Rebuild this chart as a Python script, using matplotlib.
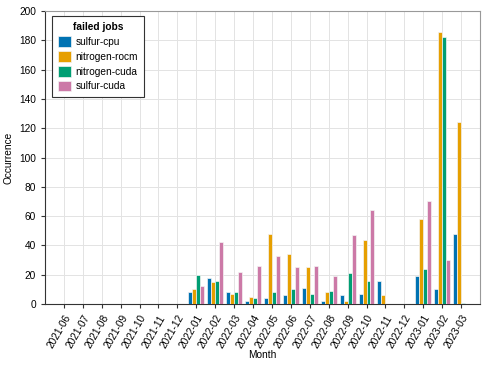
import numpy as np
import matplotlib
matplotlib.use("Agg")
import matplotlib.pyplot as plt

plt.rcParams["font.family"] = ["Liberation Sans", "DejaVu Sans"]
plt.rcParams["font.size"] = 7.3

months = ["2021-06", "2021-07", "2021-08", "2021-09", "2021-10", "2021-11",
          "2021-12", "2022-01", "2022-02", "2022-03", "2022-04", "2022-05",
          "2022-06", "2022-07", "2022-08", "2022-09", "2022-10", "2022-11",
          "2022-12", "2023-01", "2023-02", "2023-03"]

sulfur_cpu = [0, 0, 0, 0, 0, 0, 0, 8, 18, 8, 2, 4, 6, 11, 2, 6, 7, 16, 0, 19, 10, 48]
nitrogen_rocm = [0, 0, 0, 0, 0, 0, 0, 10, 15, 7, 5, 48, 34, 25, 8, 2, 44, 6, 0, 58, 186, 124]
nitrogen_cuda = [0, 0, 0, 0, 0, 0, 0, 20, 16, 8, 4, 8, 10, 7, 9, 21, 16, 0, 0, 24, 182, 1]
sulfur_cuda = [0, 0, 0, 0, 0, 0, 0, 12, 42, 22, 26, 33, 25, 26, 19, 47, 64, 0, 0, 70, 30, 0]

series = [("sulfur-cpu", sulfur_cpu, "#0072B2"),
          ("nitrogen-rocm", nitrogen_rocm, "#E69F00"),
          ("nitrogen-cuda", nitrogen_cuda, "#009E73"),
          ("sulfur-cuda", sulfur_cuda, "#CC79A7")]

fig = plt.figure(figsize=(4.91, 3.69), dpi=100)
ax = fig.add_axes([45 / 491, 1 - 304 / 369, 435 / 491, 293 / 369])

x = np.arange(len(months))
w = 0.21
for i, (name, vals, col) in enumerate(series):
    ax.bar(x + (i - 1.5) * w, vals, w, color=col, edgecolor="#f4f4f4",
           linewidth=0.5, label=name, zorder=3)

ax.set_xlim(-1, len(months))
ax.set_ylim(0, 200)
ax.set_yticks(range(0, 201, 20))
ax.set_xticks(x)
ax.set_xticklabels(months, rotation=60, ha="right", rotation_mode="anchor")
ax.grid(True, color="#e3e3e3", linewidth=0.7, zorder=0)
ax.set_axisbelow(True)
for s in ["top", "right"]:
    ax.spines[s].set_color("#999999")
for s in ["left", "bottom"]:
    ax.spines[s].set_color("#333333")
ax.tick_params(direction="out", length=3, color="#333333")
ax.set_xlabel("Month", labelpad=0)
ax.set_ylabel("Occurrence")

leg = ax.legend(title="failed jobs", loc="upper left", fancybox=False,
                edgecolor="#333333", framealpha=1, borderpad=0.6,
                labelspacing=0.4, handlelength=1.25, handleheight=1.25,
                handletextpad=0.45, borderaxespad=0,
                bbox_to_anchor=(7 / 435, 1 - 5 / 293))
leg.get_title().set_fontweight("bold")
leg.get_frame().set_linewidth(0.8)

fig.savefig("out.png", dpi=100)
